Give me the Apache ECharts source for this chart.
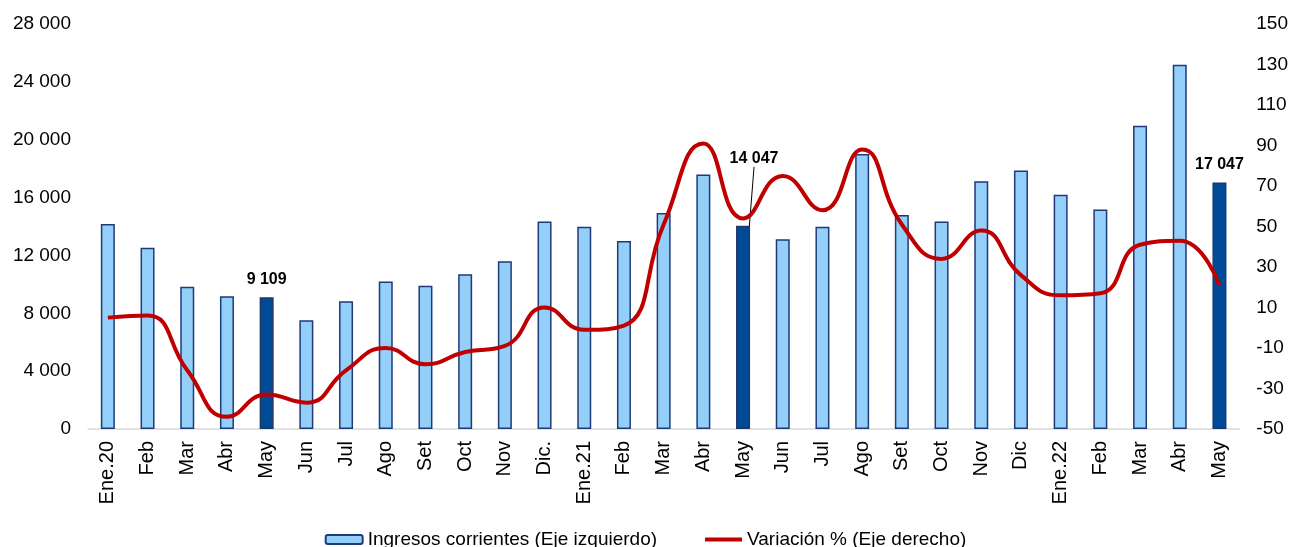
<!DOCTYPE html>
<html>
<head>
<meta charset="utf-8">
<script src="https://cdn.jsdelivr.net/npm/echarts@6/dist/echarts.min.js"></script>
<style>
  html, body { margin: 0; padding: 0; background: #fff; }
  #chart { width: 1291px; height: 547px; }
</style>
</head>
<body>
<div id="chart"></div>
<script>
// meses (eje X)
var meses = ['Ene.20', 'Feb', 'Mar', 'Abr', 'May', 'Jun', 'Jul', 'Ago', 'Set', 'Oct', 'Nov', 'Dic.',
  'Ene.21', 'Feb', 'Mar', 'Abr', 'May', 'Jun', 'Jul', 'Ago', 'Set', 'Oct', 'Nov', 'Dic',
  'Ene.22', 'Feb', 'Mar', 'Abr', 'May'];
// ingresos corrientes (eje izquierdo)
var ingresos = [14170, 12530, 9830, 9180, 9109, 7520, 8840, 10190, 9900, 10700, 11590, 14340,
  13980, 12990, 14940, 17590, 14047, 13110, 13980, 19010, 14800, 14340, 17130, 17880,
  16190, 15180, 20960, 25180, 17047];
// variacion % (eje derecho)
var variacion = [5, 6, -21, -44, -33, -37, -21, -10, -18, -12, -9, 10,
  -1, 1, 51, 91, 54, 75, 58, 88, 51, 34, 48, 26,
  16, 17, 41, 43, 21];
// meses resaltados (mayo de cada año)
var resaltados = [4, 16, 28];
var ticksIzq = [0, 4000, 8000, 12000, 16000, 20000, 24000, 28000];
var ticksDer = [-50, -30, -10, 10, 30, 50, 70, 90, 110, 130, 150];

var fuente = '"Liberation Sans", Arial, sans-serif';

function miles(v) {
  return String(v).replace(/\B(?=(\d{3})+(?!\d))/g, ' ');
}

var chart = echarts.init(document.getElementById('chart'));

//armar datos de barras
var barras = ingresos.map(function (v, i) {
  if (resaltados.indexOf(i) < 0) return v;
  return {
    value: v,
    itemStyle: { color: '#004B98', borderColor: '#1F3864' },
    label: {
      show: true,
      position: 'top',
      distance: 10,
      formatter: function (p) { return miles(p.value); },
      fontFamily: fuente,
      fontSize: 16,
      fontWeight: 'bold',
      color: '#000'
    },
    labelLine: { show: i === 16, lineStyle: { color: '#000', width: 1 } }
  };
});

var option = {
  animation: false,
  textStyle: { fontFamily: fuente },
  grid: { left: 88, right: 49, top: 24, bottom: 118 },
  legend: {
    top: 525,
    left: 'center',
    itemWidth: 37,
    itemHeight: 9,
    itemGap: 46,
    textStyle: { fontFamily: fuente, fontSize: 19, color: '#000' },
    data: [
      { name: 'Ingresos corrientes (Eje izquierdo)' },
      { name: 'Variación % (Eje derecho)', itemStyle: { opacity: 0 }, lineStyle: { width: 4, color: '#C00000' } }
    ]
  },
  xAxis: {
    type: 'category',
    data: meses,
    axisLine: { lineStyle: { color: '#D9D9D9', width: 1.5 } },
    axisTick: { show: false },
    axisLabel: {
      interval: 0,
      rotate: 90,
      margin: 12,
      fontFamily: fuente,
      fontSize: 20,
      color: '#000'
    }
  },
  yAxis: [{
    type: 'value',
    min: ticksIzq[0],
    max: ticksIzq[ticksIzq.length - 1],
    interval: 4000,
    splitLine: { show: false },
    axisLine: { show: false },
    axisTick: { show: false },
    axisLabel: {
      margin: 17,
      fontFamily: fuente,
      fontSize: 19,
      color: '#000',
      formatter: miles
    }
  }, {
    type: 'value',
    min: ticksDer[0],
    max: ticksDer[ticksDer.length - 1],
    interval: 20,
    splitLine: { show: false },
    axisLine: { show: false },
    axisTick: { show: false },
    axisLabel: {
      margin: 17,
      fontFamily: fuente,
      fontSize: 19,
      color: '#000'
    }
  }],
  series: [{
    name: 'Ingresos corrientes (Eje izquierdo)',
    type: 'bar',
    barWidth: 14,
    data: barras,
    itemStyle: { color: '#93CFF8', borderColor: '#1F3A7A', borderWidth: 1.5 },
    labelLayout: function (p) {
      //etiqueta de mayo 2021 desplazada con linea guia
      if (p.dataIndex === 16) return { dx: 11, dy: -49 };
    }
  }, {
    name: 'Variación % (Eje derecho)',
    type: 'line',
    yAxisIndex: 1,
    smooth: true,
    symbol: 'none',
    data: variacion,
    z: 5,
    lineStyle: { color: '#C00000', width: 4 },
    itemStyle: { color: '#C00000' }
  }]
};

chart.setOption(option);
</script>
</body>
</html>
